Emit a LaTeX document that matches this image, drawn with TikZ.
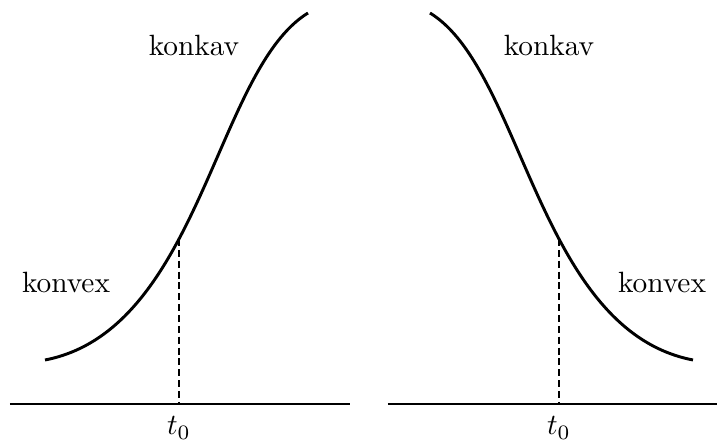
\documentclass[tikz,border=0pt]{standalone}
\begin{document}
\begin{tikzpicture}[x=0.341pt,y=-0.341pt,
  curve/.style={line width=1pt},
  axisline/.style={line width=1pt},
  guide/.style={line width=1pt,dash pattern=on 2.4pt off 1.3pt},
  lbl/.style={inner sep=0pt}]
\useasboundingbox (0,0) rectangle (717,443);
% left
\draw[axisline] (10,404) coordinate (la1) -- (350,404) coordinate (la2);
\coordinate (ls) at (45,360);
\coordinate (le) at (308,13);
\draw[curve] (ls) .. controls (200,330) and (215,70) .. (le);
\coordinate (lp) at (179,239);
\coordinate (lb) at (179,404);
\draw[guide] (lp) -- (lb);
\node[lbl] (lt) at (179,428) {$t_0$};
\node[lbl] (lkk) at (194,45) {konkav};
\node[lbl] (lkx) at (66,282) {konvex};
% right
\draw[axisline] (388,404) coordinate (ra1) -- (728,404) coordinate (ra2);
\coordinate (rs) at (693,360);
\coordinate (re) at (430,13);
\draw[curve] (rs) .. controls (538,330) and (523,70) .. (re);
\coordinate (rp) at (559,239);
\coordinate (rb) at (559,404);
\draw[guide] (rp) -- (rb);
\node[lbl] (rt) at (559,428) {$t_0$};
\node[lbl] (rkk) at (549,45) {konkav};
\node[lbl] (rkx) at (662,282) {konvex};
\end{tikzpicture}
\end{document}
